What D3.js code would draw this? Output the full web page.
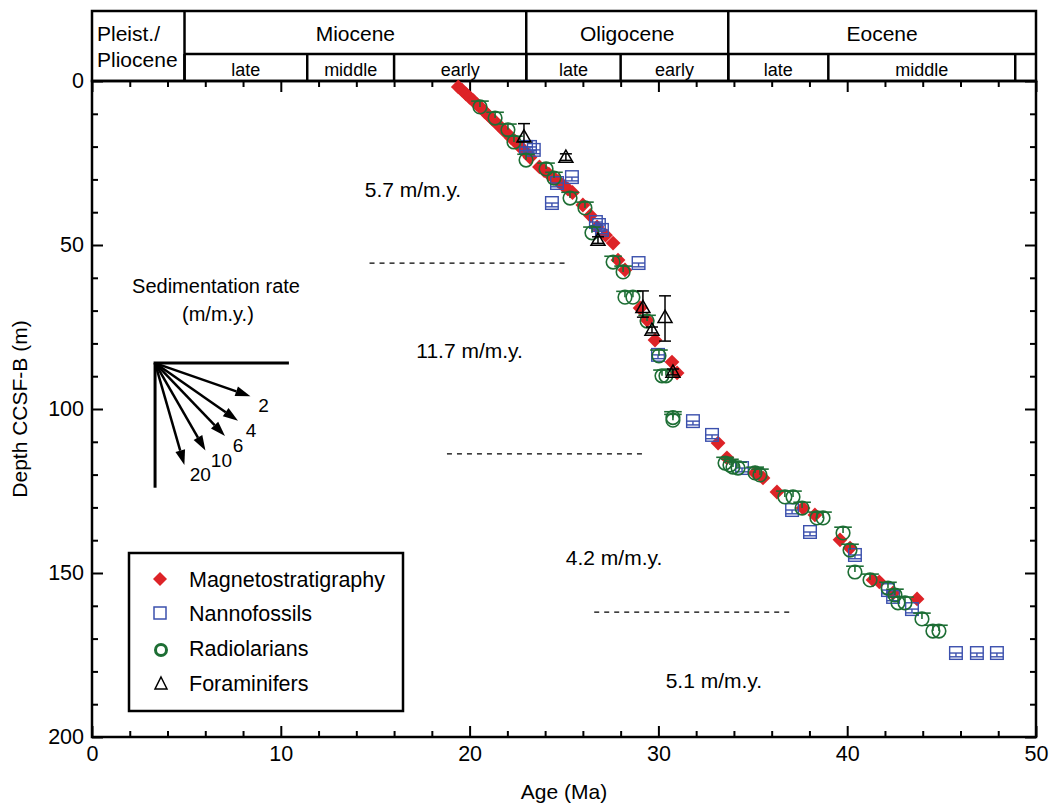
<!DOCTYPE html>
<html><head><meta charset="utf-8">
<script src="https://cdn.jsdelivr.net/npm/d3@7"></script>
<style>
html,body{margin:0;padding:0;background:#fff;}
svg{display:block;font-family:"Liberation Sans",Arial,Helvetica,sans-serif;}
</style></head>
<body><svg id="c" width="1054" height="809"></svg>
<script>
// ---------- DATA ----------
const magAge   = [19.4,19.6,19.8,20.0,20.2,20.4,20.6,20.8,21.0,21.2,21.4,21.6,21.8,22.0,22.2,22.4,22.6,22.8,23.0,23.2,
                  23.7,23.95,24.2,24.45,24.7,24.95,25.2,25.45,26.0,26.4,26.75,27.2,27.6,27.86,28.23,29.03,29.4,29.82,30.72,30.99,
                  33.16,33.63,35.12,35.54,36.28,37.66,38.29,39.62,40.15,41.37,41.7,42.43,43.7];
const magDepth = [1.8,2.8,3.9,5.0,6.0,7.2,8.1,9.4,10.5,11.6,12.7,13.8,15.0,16.1,17.3,18.4,19.5,20.8,21.9,23.3,
                  26.2,27.3,28.4,29.5,30.6,31.8,32.9,34.0,37.8,41.0,44.5,47.0,49.4,54.6,57.6,69.2,72.9,79.0,85.7,89.0,
                  110.4,114.9,119.5,121.0,125.3,130.2,132.3,139.9,142.4,152.1,152.7,156.1,157.9];

const nanAge   = [22.99,23.2,23.4,24.63,25.42,24.36,26.69,26.85,27.01,28.95,29.98,31.83,32.84,34.43,37.08,38.03,40.41,42.16,42.43,43.43,45.76,46.87,47.93];
const nanDepth = [20.1,20.1,21.0,31.1,29.3,37.2,43.0,43.9,45.4,55.5,83.5,103.7,107.9,118.0,130.8,137.5,144.5,155.2,157.3,161.0,174.4,174.4,174.4];

const radAge   = [20.55,21.35,22.03,22.35,22.99,24.05,24.47,25.32,26.11,26.48,27.6,28.13,28.23,28.65,29.4,30.03,30.19,30.4,30.77,30.77,
                  33.53,33.79,33.95,34.22,35.12,35.38,36.7,37.13,37.61,38.4,38.72,39.78,40.15,40.41,41.21,42.16,42.53,42.69,43.06,43.96,44.54,44.86];
const radDepth = [7.9,11.3,14.9,18.6,24.1,26.8,29.6,35.7,38.7,46.3,55.2,58.2,65.9,65.9,73.2,83.8,89.9,89.9,103.4,102.6,
                  116.5,117.1,117.7,118.0,119.5,120.1,126.8,126.8,130.2,133.2,133.2,137.8,143.0,149.7,152.1,154.6,156.7,159.1,159.1,164.0,167.7,167.7];

const forAge    = [22.88,25.1,26.8,29.18,30.35,29.66,30.77];
const forDepth  = [17.0,23.2,48.5,69.0,72.0,75.9,88.7];
const forTop    = [13.0,22.2,47.5,64.0,65.5,75.0,87.8];
const forBottom = [18.5,24.2,49.5,72.0,79.3,76.8,89.6];

// geologic time scale header
const epochNames  = ["Miocene","Oligocene","Eocene"];
const epochStart  = [4.9,23.0,33.7];
const epochEnd    = [23.0,33.7,50];
const subNames    = ["late","middle","early","late","early","late","middle",""];
const subStart    = [4.9,11.4,16.0,23.0,28.0,33.7,39.0,48.9];
const subEnd      = [11.4,16.0,23.0,28.0,33.7,39.0,48.9,50];

// sedimentation rate annotations
const rateLabels = ["5.7 m/m.y.","11.7 m/m.y.","4.2 m/m.y.","5.1 m/m.y."];
const rateAge    = [17.0,20.0,27.65,32.94];
const rateDepth  = [35.1,84.1,147.3,184.8];
const dashAgeFrom  = [14.7,18.8,26.6];
const dashAgeTo    = [25.1,29.2,37.0];
const dashDepth    = [55.5,113.7,161.9];

// rate fan key
const fanRates  = [2,4,6,10,20];
const fanOrigin = [3.34,86.0];
const fanHorizEnd = 10.43;
const fanVertEnd  = 124.0;

const xTicksMajor = [0,10,20,30,40,50];
const yTicksMajor = [0,50,100,150,200];

const legendNames = ["Magnetostratigraphy","Nannofossils","Radiolarians","Foraminifers"];

// ---------- CHART ----------
const RED="#dd2327", BLUE="#3b50ad", GREEN="#1d6e34";
const svg = d3.select("#c");
const x = d3.scaleLinear().domain([0,50]).range([92,1036]);
const y = d3.scaleLinear().domain([0,200]).range([81,737]);
const FS = 21.5;

function addAxis(axisGen, tr){
  const g = svg.append("g").attr("transform",tr).call(axisGen);
  g.select(".domain").remove();
  g.selectAll(".tick line").attr("stroke","#000").attr("stroke-width",2);
  g.selectAll("text").attr("font-size",FS).attr("fill","#000").attr("font-family","Liberation Sans, Arial, sans-serif");
  return g;
}
const xMinor = d3.range(0,51,2).filter(v=>v%10!==0);
const yMinor = d3.range(0,201,10).filter(v=>v%50!==0);
addAxis(d3.axisBottom(x).tickValues(xTicksMajor).tickSize(-11).tickPadding(9).tickFormat(d3.format("d")),`translate(0,${y(200)})`);
addAxis(d3.axisBottom(x).tickValues(xMinor).tickSize(-6).tickFormat(""),`translate(0,${y(200)})`);
addAxis(d3.axisTop(x).tickValues(xTicksMajor).tickSize(-11).tickFormat(""),`translate(0,${y(0)})`);
addAxis(d3.axisTop(x).tickValues(xMinor).tickSize(-6).tickFormat(""),`translate(0,${y(0)})`);
addAxis(d3.axisLeft(y).tickValues(yTicksMajor).tickSize(-11).tickPadding(8).tickFormat(d3.format("d")),`translate(${x(0)},0)`);
addAxis(d3.axisLeft(y).tickValues(yMinor).tickSize(-6).tickFormat(""),`translate(${x(0)},0)`);
addAxis(d3.axisRight(y).tickValues(yTicksMajor).tickSize(-11).tickFormat(""),`translate(${x(50)},0)`);
addAxis(d3.axisRight(y).tickValues(yMinor).tickSize(-6).tickFormat(""),`translate(${x(50)},0)`);

// frame
svg.append("rect").attr("x",x(0)).attr("y",y(0)).attr("width",x(50)-x(0)).attr("height",y(200)-y(0))
  .attr("fill","none").attr("stroke","#000").attr("stroke-width",2.5);

// header
const hTop=11, hMid=54, hBot=y(0);
const hdr = svg.append("g").attr("stroke","#000").attr("stroke-width",2.5).attr("fill","none");
hdr.append("rect").attr("x",x(0)).attr("y",hTop).attr("width",x(50)-x(0)).attr("height",hBot-hTop);
hdr.append("line").attr("x1",x(epochStart[0])).attr("x2",x(50)).attr("y1",hMid).attr("y2",hMid);
epochStart.forEach(s=>hdr.append("line").attr("x1",x(s)).attr("x2",x(s)).attr("y1",hTop).attr("y2",hBot));
subStart.forEach(s=>hdr.append("line").attr("x1",x(s)).attr("x2",x(s)).attr("y1",hMid).attr("y2",hBot));
epochNames.forEach((n,i)=>svg.append("text").attr("x",(x(epochStart[i])+x(epochEnd[i]))/2).attr("y",41)
  .attr("text-anchor","middle").attr("font-size",21).text(n));
subNames.forEach((n,i)=>svg.append("text").attr("x",(x(subStart[i])+x(subEnd[i]))/2).attr("y",76)
  .attr("text-anchor","middle").attr("font-size",18).text(n));
svg.append("text").attr("x",x(0)+5).attr("y",41).attr("font-size",21).text("Pleist./");
svg.append("text").attr("x",x(0)+5).attr("y",67).attr("font-size",21).text("Pliocene");

// axis titles
svg.append("text").attr("x",(x(0)+x(50))/2).attr("y",799).attr("text-anchor","middle").attr("font-size",21).text("Age (Ma)");
svg.append("text").attr("transform",`translate(27,${(y(0)+y(200))/2}) rotate(-90)`).attr("text-anchor","middle").attr("font-size",21).text("Depth CCSF-B (m)");

// dashed lines
dashDepth.forEach((d,i)=>svg.append("line").attr("x1",x(dashAgeFrom[i])).attr("x2",x(dashAgeTo[i]))
  .attr("y1",y(d)).attr("y2",y(d)).attr("stroke","#000").attr("stroke-width",1.2).attr("stroke-dasharray","5,5"));
rateLabels.forEach((t,i)=>svg.append("text").attr("x",x(rateAge[i])).attr("y",y(rateDepth[i])+1)
  .attr("text-anchor","middle").attr("font-size",21).text(t));

// fan key
svg.append("text").attr("x",x(6.57)).attr("y",y(64.6)).attr("text-anchor","middle").attr("font-size",20).text("Sedimentation rate");
svg.append("text").attr("x",x(6.67)).attr("y",y(72.9)+1).attr("text-anchor","middle").attr("font-size",20).text("(m/m.y.)");
const ox=x(fanOrigin[0]), oy=y(fanOrigin[1]);
svg.append("line").attr("x1",ox-1.5).attr("x2",x(fanHorizEnd)).attr("y1",oy).attr("y2",oy).attr("stroke","#000").attr("stroke-width",3);
svg.append("line").attr("x1",ox).attr("x2",ox).attr("y1",oy).attr("y2",y(fanVertEnd)).attr("stroke","#000").attr("stroke-width",3);
const pxPerMa = x(1)-x(0), pxPerM = y(1)-y(0);
fanRates.forEach((r,i)=>{
  const dx = pxPerMa*1, dy = pxPerM*r;
  const L = Math.hypot(dx,dy), ux=dx/L, uy=dy/L;
  const len = (r===20)?106:101;
  const tx = ox+ux*len, ty = oy+uy*len;
  const hl=15, hw=5;
  const bx = tx-ux*hl, by = ty-uy*hl;
  svg.append("line").attr("x1",ox).attr("y1",oy).attr("x2",bx).attr("y2",by).attr("stroke","#000").attr("stroke-width",2.5);
  svg.append("path").attr("d",`M${tx},${ty}L${bx-uy*hw},${by+ux*hw}L${bx+uy*hw},${by-ux*hw}Z`).attr("fill","#000");
  svg.append("text").attr("x",tx+(r>=10?16:13)).attr("y",ty+16).attr("text-anchor","middle").attr("font-size",19).text(r);
});

// data markers
const plot = svg.append("g");
const sq=6.3, cr=6.8, dm=7.4;
plot.selectAll(".mag").data(magAge.map((a,i)=>[a,magDepth[i]])).join("path")
  .attr("d",d=>{const cx=x(d[0]),cy=y(d[1]);return `M${cx},${cy-dm}L${cx+dm},${cy}L${cx},${cy+dm}L${cx-dm},${cy}Z`;})
  .attr("fill",RED);
const nan = plot.selectAll(".nan").data(nanAge.map((a,i)=>[a,nanDepth[i]])).join("g")
  .attr("transform",d=>`translate(${x(d[0])},${y(d[1])})`).attr("stroke",BLUE).attr("fill","none").attr("stroke-width",1.4);
nan.append("rect").attr("x",-sq).attr("y",-sq).attr("width",2*sq).attr("height",2*sq);
nan.append("line").attr("x1",-sq).attr("x2",sq).attr("y1",0).attr("y2",0);
nan.append("line").attr("x1",0).attr("x2",0).attr("y1",0).attr("y2",sq*0.6);
nan.append("line").attr("x1",-sq).attr("x2",sq).attr("y1",sq*0.6).attr("y2",sq*0.6);
const rad = plot.selectAll(".rad").data(radAge.map((a,i)=>[a,radDepth[i]])).join("g")
  .attr("transform",d=>`translate(${x(d[0])},${y(d[1])})`).attr("stroke",GREEN).attr("fill","none").attr("stroke-width",1.6);
rad.append("circle").attr("r",cr);
rad.append("line").attr("x1",-cr-2).attr("x2",cr+2).attr("y1",-cr+1).attr("y2",-cr+1);
rad.append("line").attr("x1",0).attr("x2",0).attr("y1",-cr+1).attr("y2",0);
const tri = 7;
const fora = plot.selectAll(".for").data(forAge.map((a,i)=>({a,d:forDepth[i],t:forTop[i],b:forBottom[i]}))).join("g")
  .attr("stroke","#000").attr("fill","none").attr("stroke-width",1.5);
fora.append("line").attr("x1",d=>x(d.a)).attr("x2",d=>x(d.a)).attr("y1",d=>y(d.t)).attr("y2",d=>y(d.b));
fora.append("line").attr("x1",d=>x(d.a)-6).attr("x2",d=>x(d.a)+6).attr("y1",d=>y(d.t)).attr("y2",d=>y(d.t));
fora.append("line").attr("x1",d=>x(d.a)-6).attr("x2",d=>x(d.a)+6).attr("y1",d=>y(d.b)).attr("y2",d=>y(d.b));
fora.append("path").attr("d",d=>{const cx=x(d.a),cy=y(d.d);return `M${cx},${cy-tri}L${cx+tri},${cy+tri*0.75}L${cx-tri},${cy+tri*0.75}Z`;});

// legend
const lg = svg.append("g");
const lx0=129, ly0=553, lw=274, lh=158;
lg.append("rect").attr("x",lx0).attr("y",ly0).attr("width",lw).attr("height",lh).attr("fill","#fff").attr("stroke","#000").attr("stroke-width",2.5);
const rowY=[579,613,648,683], mX=160, tX=189;
legendNames.forEach((n,i)=>lg.append("text").attr("x",tX).attr("y",rowY[i]+7.5).attr("font-size",21.5).text(n));
lg.append("path").attr("d",`M${mX},${rowY[0]-7}L${mX+7},${rowY[0]}L${mX},${rowY[0]+7}L${mX-7},${rowY[0]}Z`).attr("fill",RED);
lg.append("rect").attr("x",mX-6).attr("y",rowY[1]-6).attr("width",12).attr("height",12).attr("fill","none").attr("stroke",BLUE).attr("stroke-width",1.5);
lg.append("circle").attr("cx",mX+1).attr("cy",rowY[2]+2).attr("r",5.5).attr("fill","none").attr("stroke",GREEN).attr("stroke-width",3);
lg.append("path").attr("d",`M${mX+1},${rowY[3]-6}L${mX+7},${rowY[3]+6}L${mX-5},${rowY[3]+6}Z`).attr("fill","none").attr("stroke","#000").attr("stroke-width",1.5);
</script></body></html>
